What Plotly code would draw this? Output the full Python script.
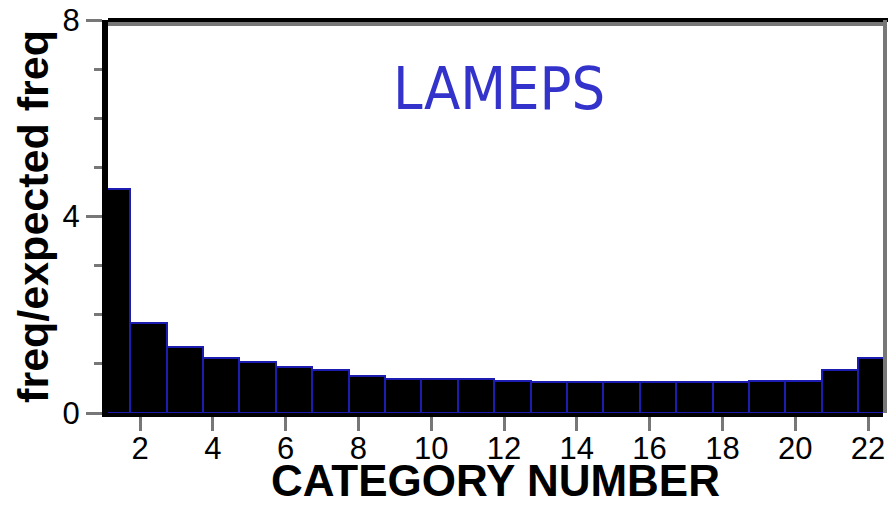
import plotly.graph_objects as go

# Rank histogram: observed frequency relative to expected, per category
categories = list(range(1, 23))
freq_ratio = [4.57, 1.84, 1.34, 1.11, 1.03, 0.94, 0.87, 0.75, 0.70, 0.70, 0.70,
              0.65, 0.63, 0.63, 0.63, 0.63, 0.63, 0.63, 0.65, 0.65, 0.87, 1.11]
x_tick_values = list(range(2, 23, 2))
y_tick_values = [0, 4, 8]

title_text = "LAMEPS"
x_title = "CATEGORY NUMBER"
y_title = "freq/expected freq"

W, H = 888, 505
M_L, M_R, M_T, M_B = 108, 5, 20, 92
PLOT_W, PLOT_H = W - M_L - M_R, H - M_T - M_B
PX_PER_CAT = 36.4
x_start = 2 - (140 - M_L) / PX_PER_CAT
x_end = x_start + PLOT_W / PX_PER_CAT

fig = go.Figure()
fig.add_trace(go.Bar(
    x=categories,
    y=freq_ratio,
    width=1.0,
    offset=-0.27,
    marker=dict(color="#000000", line=dict(color="#1c1cb0", width=2)),
    hoverinfo="x+y",
))

fig.update_layout(
    width=W, height=H,
    margin=dict(l=M_L, r=M_R, t=M_T, b=M_B, pad=0, autoexpand=False),
    paper_bgcolor="white",
    plot_bgcolor="white",
    showlegend=False,
    bargap=0,
    font=dict(family="Liberation Sans, Arial, sans-serif", color="black"),
)

fig.update_xaxes(
    range=[x_start, x_end], automargin=False,
    tickmode="array", tickvals=x_tick_values,
    ticktext=[str(v) for v in x_tick_values],
    ticks="outside", ticklen=14, tickwidth=3, tickcolor="#777777",
    ticklabelstandoff=-9,
    tickfont=dict(size=31, color="black"),
    showgrid=False, zeroline=False,
    showline=True, linecolor="black", linewidth=4,
    title=dict(text=x_title, standoff=9,
               font=dict(size=44, family="Liberation Sans, Arial, sans-serif",
                         weight="bold", color="black")),
)

fig.update_yaxes(
    range=[0, 8], automargin=False,
    tickmode="array", tickvals=y_tick_values,
    ticktext=[str(v) for v in y_tick_values],
    ticks="outside", ticklen=16, tickwidth=3, tickcolor="#777777",
    minor=dict(dtick=1, ticks="outside", ticklen=8, tickwidth=3, tickcolor="#777777"),
    tickfont=dict(size=31, color="black"),
    showgrid=False, zeroline=False,
    showline=True, linecolor="black", linewidth=6,
    title=dict(text=y_title, standoff=2,
               font=dict(size=43, family="Liberation Sans, Arial, sans-serif",
                         weight="bold", color="black")),
)

# Frame: black top edge with a grey inner rule, grey right edge
fig.add_shape(type="line", xref="paper", yref="paper", x0=0, x1=1.01, y0=1, y1=1,
              line=dict(color="black", width=4))
fig.add_shape(type="line", xref="paper", yref="paper", x0=0, x1=1,
              y0=1 - 4 / PLOT_H, y1=1 - 4 / PLOT_H,
              line=dict(color="#777777", width=4))
fig.add_shape(type="line", xref="paper", yref="paper",
              x0=1 + 2 / PLOT_W, x1=1 + 2 / PLOT_W, y0=0, y1=1,
              line=dict(color="#777777", width=4))

fig.add_annotation(
    text=title_text, xref="paper", yref="paper",
    x=(499 - M_L) / PLOT_W, y=1 - (88 - M_T) / PLOT_H,
    xanchor="center", yanchor="middle", showarrow=False,
    font=dict(size=59, color="#3333cc",
              family="DejaVu Sans Condensed, Liberation Sans Narrow, Liberation Sans, Arial, sans-serif"),
)

fig.write_html("out.html")
